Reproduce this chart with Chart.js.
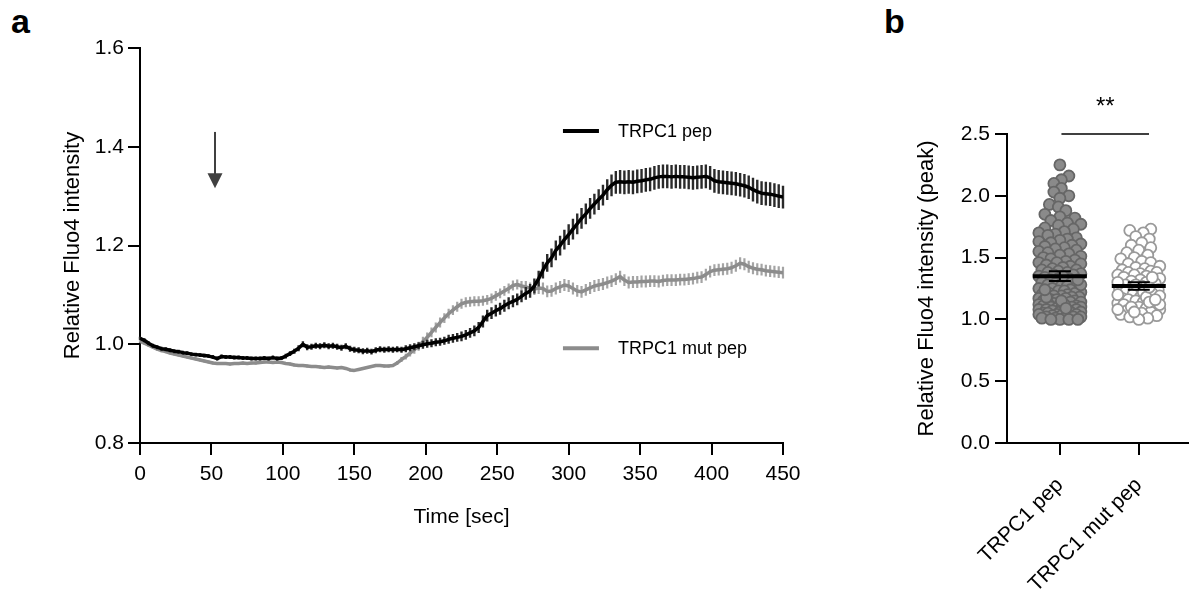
<!DOCTYPE html>
<html><head><meta charset="utf-8">
<script src="https://cdn.jsdelivr.net/npm/chart.js@4.4.1/dist/chart.umd.min.js"></script>
<style>
html,body{margin:0;padding:0;background:#fff;width:1195px;height:593px;overflow:hidden;}
#wrapA{position:absolute;left:0;top:0;width:870px;height:593px;}
#wrapB{position:absolute;left:870px;top:0;width:325px;height:593px;}
.plabel{position:absolute;font-family:"Liberation Sans",Arial,sans-serif;font-weight:bold;font-size:34px;line-height:34px;color:#000;}
</style></head><body>
<div class="plabel" style="left:11px;top:4px">a</div>
<div class="plabel" style="left:884px;top:4px">b</div>
<div id="wrapA"><canvas id="ca" width="870" height="593"></canvas></div>
<div id="wrapB"><canvas id="cb" width="325" height="593"></canvas></div>
<script>
// ---------- Panel a data ----------
const timeSec = [0,3,6,9,12,15,18,21,24,27,30,33,36,39,42,45,48,51,54,57,60,63,66,69,72,75,78,81,84,87,
90,93,96,99,102,105,108,111,114,117,120,123,126,129,132,135,138,141,144,147,150,153,156,159,162,165,168,171,174,177,
180,183,186,189,192,195,198,201,204,207,210,213,216,219,222,225,228,231,234,237,240,243,246,249,252,255,258,261,264,267,
270,273,276,279,282,285,288,291,294,297,300,303,306,309,312,315,318,321,324,327,330,333,336,339,342,345,348,351,354,357,
360,363,366,369,372,375,378,381,384,387,390,393,396,399,402,405,408,411,414,417,420,423,426,429,432,435,438,441,444,447,450];
const pepMean = [1.012,1.008,1.002,0.997,0.994,0.991,0.990,0.988,0.986,0.985,
0.983,0.982,0.980,0.979,0.978,0.977,0.976,0.974,0.971,0.975,
0.974,0.974,0.973,0.973,0.972,0.972,0.971,0.971,0.971,0.972,
0.971,0.973,0.971,0.972,0.976,0.981,0.986,0.992,1.000,0.994,
0.995,0.997,0.996,0.998,0.996,0.997,0.995,0.993,0.996,0.991,
0.989,0.988,0.986,0.987,0.985,0.988,0.990,0.989,0.990,0.989,
0.990,0.989,0.991,0.993,0.995,0.997,0.999,1.001,1.002,1.004,
1.005,1.007,1.010,1.012,1.014,1.016,1.019,1.023,1.027,1.034,
1.046,1.058,1.063,1.068,1.072,1.078,1.083,1.087,1.091,1.097,
1.103,1.108,1.118,1.133,1.150,1.165,1.175,1.190,1.200,1.212,
1.222,1.233,1.244,1.255,1.264,1.275,1.284,1.293,1.302,1.313,
1.322,1.328,1.329,1.328,1.329,1.328,1.330,1.331,1.333,1.334,
1.337,1.339,1.340,1.340,1.339,1.340,1.339,1.339,1.338,1.337,
1.338,1.339,1.340,1.337,1.331,1.329,1.328,1.327,1.326,1.325,
1.323,1.321,1.318,1.313,1.309,1.306,1.305,1.304,1.302,1.300,
1.298];
const pepSem = [0.003,0.004,0.004,0.004,0.004,0.004,0.004,0.004,0.004,0.004,
0.004,0.004,0.004,0.004,0.004,0.004,0.004,0.004,0.004,0.004,
0.004,0.004,0.004,0.004,0.004,0.004,0.004,0.004,0.004,0.004,
0.004,0.004,0.004,0.004,0.005,0.005,0.005,0.006,0.006,0.006,
0.006,0.006,0.006,0.006,0.006,0.006,0.006,0.006,0.006,0.006,
0.006,0.006,0.006,0.006,0.006,0.006,0.006,0.006,0.006,0.006,
0.006,0.006,0.007,0.007,0.007,0.007,0.008,0.008,0.008,0.008,
0.008,0.008,0.009,0.009,0.009,0.010,0.010,0.010,0.011,0.011,
0.012,0.012,0.012,0.012,0.012,0.012,0.012,0.012,0.012,0.012,
0.013,0.014,0.015,0.016,0.017,0.018,0.019,0.020,0.020,0.020,
0.021,0.021,0.021,0.021,0.021,0.021,0.021,0.021,0.021,0.021,
0.022,0.023,0.024,0.024,0.024,0.024,0.024,0.024,0.024,0.024,
0.024,0.024,0.024,0.024,0.024,0.024,0.024,0.024,0.024,0.024,
0.024,0.024,0.024,0.024,0.024,0.024,0.024,0.024,0.024,0.024,
0.024,0.024,0.024,0.024,0.024,0.024,0.024,0.024,0.024,0.024,
0.023];
const mutMean = [1.006,1.002,0.998,0.994,0.990,0.987,0.985,0.982,0.980,0.978,
0.976,0.974,0.972,0.970,0.968,0.966,0.964,0.962,0.961,0.961,
0.961,0.960,0.961,0.961,0.962,0.961,0.962,0.962,0.963,0.964,
0.964,0.963,0.964,0.963,0.961,0.960,0.958,0.957,0.957,0.956,
0.955,0.955,0.954,0.953,0.954,0.953,0.952,0.953,0.951,0.948,
0.947,0.949,0.951,0.953,0.955,0.957,0.957,0.956,0.956,0.957,
0.962,0.969,0.975,0.982,0.989,0.996,1.005,1.014,1.024,1.034,
1.044,1.053,1.062,1.069,1.076,1.082,1.085,1.086,1.087,1.087,
1.088,1.090,1.093,1.098,1.103,1.108,1.113,1.119,1.121,1.118,
1.116,1.113,1.112,1.114,1.113,1.107,1.108,1.113,1.116,1.120,
1.118,1.113,1.108,1.106,1.110,1.114,1.118,1.120,1.122,1.125,
1.128,1.132,1.137,1.130,1.125,1.126,1.126,1.127,1.127,1.128,
1.128,1.127,1.129,1.130,1.130,1.130,1.131,1.131,1.132,1.133,
1.135,1.136,1.141,1.147,1.150,1.151,1.152,1.153,1.155,1.159,
1.164,1.162,1.157,1.154,1.152,1.151,1.149,1.148,1.147,1.146,
1.145];
const mutSem = [0.003,0.003,0.003,0.003,0.003,0.003,0.003,0.003,0.003,0.003,
0.003,0.003,0.003,0.003,0.003,0.003,0.003,0.003,0.003,0.003,
0.003,0.003,0.003,0.003,0.003,0.003,0.003,0.003,0.003,0.003,
0.003,0.003,0.003,0.003,0.003,0.003,0.003,0.003,0.003,0.003,
0.003,0.003,0.003,0.003,0.003,0.003,0.003,0.003,0.003,0.003,
0.003,0.003,0.003,0.003,0.003,0.003,0.003,0.003,0.003,0.003,
0.004,0.005,0.006,0.007,0.008,0.009,0.010,0.010,0.010,0.010,
0.010,0.010,0.010,0.010,0.010,0.010,0.010,0.010,0.010,0.010,
0.010,0.010,0.010,0.010,0.010,0.010,0.010,0.010,0.010,0.010,
0.012,0.012,0.012,0.012,0.012,0.012,0.012,0.012,0.012,0.012,
0.012,0.012,0.012,0.012,0.012,0.012,0.012,0.012,0.012,0.012,
0.012,0.012,0.012,0.012,0.012,0.012,0.012,0.012,0.012,0.012,
0.012,0.012,0.012,0.012,0.012,0.012,0.012,0.012,0.012,0.012,
0.012,0.012,0.012,0.012,0.012,0.012,0.012,0.012,0.012,0.012,
0.012,0.012,0.012,0.012,0.012,0.012,0.012,0.012,0.012,0.012,
0.012];
const seriesNames = ['TRPC1 pep', 'TRPC1 mut pep'];
const xTicksA = [0,50,100,150,200,250,300,350,400,450];
const yTicksA = [0.8,1.0,1.2,1.4,1.6];
const arrowTime = 52.5;

// ---------- Panel b data ----------
const groups = ['TRPC1 pep', 'TRPC1 mut pep'];
const pepPeak = [2.25,2.16,2.13,2.10,2.06,2.03,2.00,1.98,1.93,1.91,1.88,1.85,1.83,1.82,1.80,1.78,1.77,1.76,1.74,1.73,
1.71,1.70,1.69,1.68,1.66,1.65,1.64,1.63,1.62,1.61,1.60,1.59,1.58,1.57,1.56,1.55,1.54,1.53,1.52,1.51,
1.50,1.49,1.48,1.47,1.46,1.46,1.45,1.44,1.43,1.42,
1.41,1.40,1.40,1.39,1.38,1.38,1.37,1.36,1.36,1.35,1.34,1.33,1.33,1.32,1.31,1.30,1.30,1.29,1.28,1.27,
1.27,1.26,1.25,1.25,1.24,1.23,1.23,1.22,1.21,1.21,1.20,1.20,1.19,1.19,1.18,1.18,1.17,1.17,1.16,1.16,
1.15,1.15,1.14,1.14,1.13,1.13,1.12,1.12,1.11,1.11,1.10,1.10,1.10,1.09,1.09,1.08,1.08,1.08,1.07,1.07,
1.06,1.06,1.06,1.05,1.05,1.05,1.04,1.04,1.04,1.03,1.03,1.03,1.02,1.02,1.02,1.01,1.01,1.01,1.00,1.00,
1.00,1.00,1.12,1.18,1.24,1.28,1.32,1.35,1.15,1.09];
const mutPeak = [1.73,1.72,1.70,1.67,1.65,1.62,1.60,1.58,1.56,1.54,1.52,1.50,1.49,1.47,1.46,1.45,1.43,1.42,1.41,1.40,
1.39,1.38,1.38,1.37,1.36,1.36,1.35,1.34,1.33,1.32,1.31,1.30,1.29,1.28,1.27,1.26,1.25,1.24,1.23,1.22,
1.21,1.20,1.19,1.18,1.17,1.16,1.15,1.14,1.13,1.12,1.11,1.10,1.09,1.08,1.07,1.06,1.05,1.04,1.03,1.02,
1.01,1.00,1.22,1.18,1.14,1.10,1.26,1.30,1.34,1.06,1.12,1.20,1.16,1.08,1.28];
const groupMean = [1.35, 1.27];
const groupSem = [0.04, 0.03];
const yTicksB = [0,0.5,1.0,1.5,2.0,2.5];
const sigText = '**';

// ---------- common ----------
const FONT = '"Liberation Sans", Arial, Helvetica, sans-serif';
Chart.defaults.font.family = FONT;
Chart.defaults.color = '#000';
Chart.defaults.animation = false;

const errorBarPlugin = {
  id: 'errbars',
  beforeDatasetDraw(chart, args) {
    const ds = chart.data.datasets[args.index];
    if (!ds.errors) return;
    const ctx = chart.ctx, ys = chart.scales.y;
    ctx.save();
    ctx.strokeStyle = ds.errColor;
    ctx.lineWidth = ds.errWidth;
    ctx.beginPath();
    args.meta.data.forEach((pt, i) => {
      const v = ds.data[i].y, e = ds.errors[i];
      ctx.moveTo(pt.x, ys.getPixelForValue(v + e));
      ctx.lineTo(pt.x, ys.getPixelForValue(v - e));
    });
    ctx.stroke();
    ctx.restore();
  }
};

const annotA = {
  id: 'annotA',
  afterDraw(chart) {
    const {ctx, scales: {x, y}} = chart;
    const ax = x.getPixelForValue(arrowTime);
    const y0 = y.getPixelForValue(1.430), y1 = y.getPixelForValue(1.316);
    ctx.save();
    ctx.strokeStyle = '#404040'; ctx.fillStyle = '#404040'; ctx.lineWidth = 2;
    ctx.beginPath(); ctx.moveTo(ax, y0); ctx.lineTo(ax, y1 - 14); ctx.stroke();
    ctx.beginPath(); ctx.moveTo(ax - 7.5, y1 - 15); ctx.lineTo(ax + 7.5, y1 - 15); ctx.lineTo(ax, y1); ctx.closePath(); ctx.fill();
    const legendPos = [[296, 1.432], [296, 0.992]];
    chart.data.datasets.forEach((ds, i) => {
      const lx = x.getPixelForValue(legendPos[i][0]);
      const ly = y.getPixelForValue(legendPos[i][1]);
      ctx.strokeStyle = ds.borderColor; ctx.lineWidth = 4;
      ctx.beginPath(); ctx.moveTo(lx, ly); ctx.lineTo(lx + 36, ly); ctx.stroke();
      ctx.fillStyle = '#000'; ctx.font = '18px ' + FONT;
      ctx.textBaseline = 'middle'; ctx.textAlign = 'left';
      ctx.fillText(ds.label, lx + 55, ly + 1);
    });
    ctx.restore();
  }
};

const axisCommon = (extra) => Object.assign({
  grid: {drawOnChartArea: false, drawTicks: true, tickLength: 12, color: '#000', lineWidth: 2},
  border: {display: true, color: '#000', width: 2}
}, extra);

new Chart(document.getElementById('ca'), {
  type: 'line',
  data: {
    datasets: [
      {label: seriesNames[0], data: timeSec.map((t, i) => ({x: t, y: pepMean[i]})), errors: pepSem,
       errColor: '#2a2a2a', errWidth: 2.4, borderColor: '#000000', borderWidth: 3.5, pointRadius: 0,
       borderJoinStyle: 'round', tension: 0},
      {label: seriesNames[1], data: timeSec.map((t, i) => ({x: t, y: mutMean[i]})), errors: mutSem,
       errColor: '#a4a4a4', errWidth: 2.2, borderColor: '#8c8c8c', borderWidth: 3.5, pointRadius: 0,
       borderJoinStyle: 'round', tension: 0}
    ]
  },
  options: {
    responsive: false, animation: false, events: [],
    layout: {padding: {left: 56, top: 48, right: 87, bottom: 59}},
    plugins: {legend: {display: false}, tooltip: {enabled: false}},
    scales: {
      x: axisCommon({type: 'linear', min: 0, max: 450,
        afterBuildTicks: s => { s.ticks = xTicksA.map(v => ({value: v})); },
        ticks: {font: {size: 21}, color: '#000', padding: 7, maxRotation: 0, autoSkip: false},
        title: {display: true, text: 'Time [sec]', font: {size: 21}, color: '#000'},
        afterFit: s => { s.height = 91; }}),
      y: axisCommon({type: 'linear', min: 0.8, max: 1.6,
        afterBuildTicks: s => { s.ticks = yTicksA.map(v => ({value: v})); },
        ticks: {font: {size: 21}, color: '#000', padding: 4, callback: v => Number(v).toFixed(1)},
        title: {display: true, text: 'Relative Fluo4 intensity', font: {size: 22}, color: '#000'},
        afterFit: s => { s.width = 84; }})
    }
  },
  plugins: [errorBarPlugin, annotA]
});

// ---------- Panel b ----------
const annotB = {
  id: 'annotB',
  afterDatasetsDraw(chart) {
    const {ctx, scales: {x, y}} = chart;
    ctx.save();
    groupMean.forEach((m, i) => {
      const cx = x.getPixelForValue(i + 1);
      const my = y.getPixelForValue(m);
      const t = y.getPixelForValue(m + groupSem[i]), b = y.getPixelForValue(m - groupSem[i]);
      ctx.strokeStyle = '#000';
      ctx.lineWidth = 4;
      ctx.beginPath(); ctx.moveTo(cx - 27, my); ctx.lineTo(cx + 27, my); ctx.stroke();
      ctx.lineWidth = 2;
      ctx.beginPath();
      ctx.moveTo(cx, t); ctx.lineTo(cx, b);
      ctx.moveTo(cx - 11, t); ctx.lineTo(cx + 11, t);
      ctx.moveTo(cx - 11, b); ctx.lineTo(cx + 11, b);
      ctx.stroke();
    });
    ctx.restore();
  },
  afterDraw(chart) {
    const {ctx, scales: {x, y}} = chart;
    const ly = y.getPixelForValue(2.5);
    const x0 = x.getPixelForValue(1.02), x1 = x.getPixelForValue(2.13);
    ctx.save();
    ctx.strokeStyle = '#000'; ctx.lineWidth = 1.5;
    ctx.beginPath(); ctx.moveTo(x0, ly); ctx.lineTo(x1, ly); ctx.stroke();
    ctx.fillStyle = '#000'; ctx.font = '24px ' + FONT; ctx.textAlign = 'center'; ctx.textBaseline = 'alphabetic';
    ctx.fillText(sigText, (x0 + x1) / 2, ly - 20);
    ctx.restore();
  }
};

const chartB = new Chart(document.getElementById('cb'), {
  type: 'scatter',
  data: {
    datasets: [
      {label: groups[0], peaks: pepPeak, data: pepPeak.map(v => ({x: 1, y: v})),
       backgroundColor: '#8a8a8a', borderColor: '#666666', borderWidth: 1.8, pointRadius: 5.5},
      {label: groups[1], peaks: mutPeak, data: mutPeak.map(v => ({x: 2, y: v})),
       backgroundColor: '#ffffff', borderColor: '#9a9a9a', borderWidth: 1.8, pointRadius: 5.5}
    ]
  },
  options: {
    responsive: false, animation: false, events: [],
    layout: {padding: {left: 40, top: 134, right: 0, bottom: 0}},
    plugins: {legend: {display: false}, tooltip: {enabled: false}},
    scales: {
      x: axisCommon({type: 'linear', min: 0.33, max: 2.62,
        afterBuildTicks: s => { s.ticks = [{value: 1}, {value: 2}]; },
        ticks: {font: {size: 21}, color: '#000', padding: 18, minRotation: 45, maxRotation: 45, autoSkip: false,
                callback: v => groups[Math.round(v) - 1]},
        afterFit: s => { s.height = 150; }}),
      y: axisCommon({type: 'linear', min: 0, max: 2.5,
        afterBuildTicks: s => { s.ticks = yTicksB.map(v => ({value: v})); },
        ticks: {font: {size: 21}, color: '#000', padding: 5, callback: v => Number(v).toFixed(1)},
        title: {display: true, text: 'Relative Fluo4 intensity (peak)', font: {size: 22}, color: '#000'},
        afterFit: s => { s.width = 97; }})
    }
  },
  plugins: [annotB]
});

// beeswarm layout of the points, computed through the chart's own scales
(function swarm(chart) {
  const xs = chart.scales.x, ys = chart.scales.y;
  const r = 5.5, maxOff = 22, minDist = 2 * r * 0.72;
  chart.data.datasets.forEach((ds, gi) => {
    const cx = xs.getPixelForValue(gi + 1);
    const order = ds.peaks.map((v, i) => i).sort((a, b) => ds.peaks[a] - ds.peaks[b]);
    const placed = [];
    const offs = new Array(ds.peaks.length);
    order.forEach(i => {
      const py = ys.getPixelForValue(ds.peaks[i]);
      let best = 0, bestScore = -1;
      for (let k = 0; ; k++) {
        const o = (k % 2 ? 1 : -1) * Math.ceil(k / 2) * 1.5;
        if (Math.abs(o) > maxOff) break;
        let dmin = Infinity;
        for (const p of placed) {
          const d = Math.hypot(p.x - (cx + o), p.y - py);
          if (d < dmin) dmin = d;
        }
        if (dmin >= minDist) { best = o; bestScore = Infinity; break; }
        if (dmin > bestScore) { bestScore = dmin; best = o; }
      }
      placed.push({x: cx + best, y: py});
      offs[i] = best;
    });
    ds.data = ds.peaks.map((v, i) => ({x: xs.getValueForPixel(cx + offs[i]), y: v}));
  });
  chart.update('none');
})(chartB);
</script>
</body></html>
